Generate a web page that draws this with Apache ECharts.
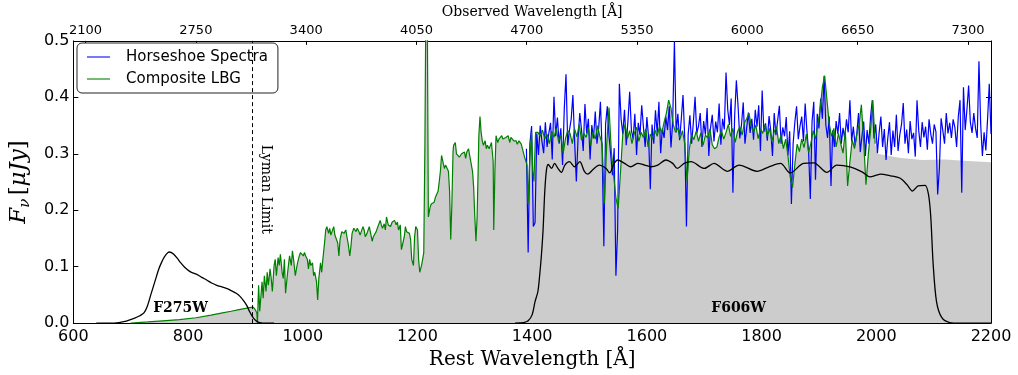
<!DOCTYPE html>
<html>
<head>
<meta charset="utf-8">
<script src="https://cdn.jsdelivr.net/npm/echarts@6/dist/echarts.min.js"></script>
<style>
  html, body { margin: 0; padding: 0; background: #fff; }
  #chart { width: 1018px; height: 375px; }
</style>
</head>
<body>
<div id="chart"></div>
<script>
// Redshift factor (1 + z) linking rest-frame and observed wavelengths
const ONE_PLUS_Z = 3.38;

// Bottom / top axis ticks
const REST_TICKS = [600, 800, 1000, 1200, 1400, 1600, 1800, 2000, 2200];
const OBS_TICKS = [2100, 2750, 3400, 4050, 4700, 5350, 6000, 6650, 7300];

// Composite LBG spectrum, blue side (rest wavelength in Å, flux in μJy)
const LBG_UV_WAVE = [
  700, 730, 756, 785, 814, 840, 860, 875, 889, 900, 910, 914, 917, 920, 921,
  923, 925, 929, 931, 933, 936, 938, 940, 943, 945, 947, 950, 952, 954, 957, 959, 961, 964, 966, 968, 970,
  973, 975, 977, 980, 982, 984, 987, 989, 991, 994, 996, 998, 1001, 1003, 1005, 1008, 1010, 1012, 1014, 1017,
  1019, 1021, 1024, 1026, 1028, 1031, 1033, 1035, 1038, 1040, 1042, 1045, 1047, 1049, 1051, 1054, 1056, 1058,
  1061, 1063, 1065, 1068, 1070, 1072, 1075, 1077, 1079, 1082, 1084, 1086, 1089, 1091, 1093, 1095, 1098, 1100,
  1102, 1105, 1107, 1109, 1112, 1114, 1116, 1119, 1121, 1123, 1126, 1128, 1130, 1133, 1135, 1137, 1139, 1142,
  1144, 1146, 1149, 1151, 1153, 1156, 1158, 1160, 1163, 1165, 1167, 1170, 1172, 1174, 1177, 1179, 1181, 1183,
  1186, 1188, 1190, 1193, 1195, 1197, 1200, 1202, 1204, 1207, 1209, 1211,
  1213, 1215, 1217, 1219, 1222, 1224, 1226, 1229, 1231, 1233, 1236, 1238, 1240, 1242, 1245, 1247, 1249, 1252,
  1254, 1256, 1258, 1260, 1262, 1263, 1266, 1268, 1270, 1273, 1275, 1277, 1280, 1282, 1284, 1286, 1289, 1291,
  1293, 1296, 1298, 1300, 1302, 1304, 1306, 1307, 1309, 1311, 1313, 1315, 1318, 1320, 1322, 1325, 1327, 1329,
  1332, 1333, 1335, 1337, 1340, 1342, 1344, 1347, 1349, 1351, 1354, 1356, 1358, 1361, 1363, 1365, 1368, 1370,
  1372, 1374, 1377, 1379, 1381, 1384, 1386, 1388, 1391, 1393, 1395, 1396, 1399, 1401, 1403, 1406
];
const LBG_UV_FLUX = [
  0.000, 0.002, 0.004, 0.006, 0.0095, 0.014, 0.018, 0.021, 0.024, 0.026, 0.028, 0.028, 0.024, 0.018, 0.000,
  0.067, 0.021, 0.073, 0.044, 0.084, 0.056, 0.090, 0.067, 0.096, 0.079, 0.056, 0.102, 0.113, 0.084, 0.116, 0.102, 0.122, 0.090, 0.079, 0.113, 0.053,
  0.084, 0.102, 0.119, 0.102, 0.128, 0.113, 0.084, 0.096, 0.107, 0.119, 0.125, 0.128, 0.119, 0.125, 0.119, 0.113, 0.096, 0.113, 0.102, 0.107,
  0.084, 0.090, 0.073, 0.041, 0.079, 0.107, 0.090, 0.113, 0.142, 0.165, 0.171, 0.159, 0.168, 0.156, 0.162, 0.171, 0.156, 0.159,
  0.142, 0.119, 0.148, 0.162, 0.165, 0.159, 0.165, 0.153, 0.142, 0.119, 0.136, 0.159, 0.168, 0.171, 0.162, 0.168, 0.162, 0.156,
  0.162, 0.171, 0.165, 0.153, 0.159, 0.165, 0.171, 0.156, 0.145, 0.153, 0.156, 0.162, 0.168, 0.171, 0.182, 0.174, 0.168, 0.176,
  0.165, 0.188, 0.174, 0.176, 0.171, 0.179, 0.176, 0.182, 0.174, 0.179, 0.165, 0.174, 0.130, 0.127, 0.153, 0.171, 0.162, 0.165,
  0.159, 0.148, 0.113, 0.102, 0.153, 0.171, 0.165, 0.113, 0.090, 0.102, 0.113, 0.125,
  0.320, 0.620, 0.580, 0.188, 0.205, 0.211, 0.208, 0.214, 0.222, 0.225, 0.234, 0.251, 0.269, 0.297, 0.283, 0.274, 0.280, 0.277,
  0.269, 0.234, 0.148, 0.211, 0.303, 0.315, 0.320, 0.300, 0.303, 0.294, 0.292, 0.300, 0.297, 0.303, 0.292, 0.303, 0.309, 0.297,
  0.286, 0.269, 0.240, 0.188, 0.145, 0.188, 0.280, 0.332, 0.366, 0.338, 0.323, 0.315, 0.323, 0.309, 0.315, 0.309, 0.312, 0.320,
  0.286, 0.165, 0.269, 0.332, 0.320, 0.326, 0.329, 0.332, 0.326, 0.323, 0.329, 0.326, 0.332, 0.320, 0.329, 0.326, 0.323, 0.320,
  0.323, 0.317, 0.323, 0.326, 0.317, 0.315, 0.297, 0.294, 0.280, 0.211, 0.269, 0.292, 0.338, 0.269, 0.251, 0.338
];

// Composite LBG spectrum, red side: regular 4 Å sampling from 1410 Å
const LBG_RED_START = 1410;
const LBG_RED_STEP = 4;
const LBG_RED_FLUX = [
  0.338, 0.331, 0.342, 0.326, 0.335, 0.318, 0.340, 0.329, 0.345, 0.322,
  0.333, 0.300, 0.327, 0.341, 0.336, 0.318, 0.344, 0.330, 0.352, 0.324,
  0.337, 0.329, 0.346, 0.315, 0.339, 0.326, 0.350, 0.331, 0.318, 0.212,
  0.318, 0.382, 0.305, 0.262, 0.222, 0.203, 0.268, 0.335, 0.352, 0.327,
  0.341, 0.318, 0.336, 0.347, 0.322, 0.338, 0.329, 0.344, 0.312, 0.335,
  0.326, 0.342, 0.331, 0.349, 0.337, 0.356, 0.372, 0.395, 0.381, 0.352,
  0.338, 0.346, 0.327, 0.341, 0.318, 0.251, 0.308, 0.334, 0.325, 0.340,
  0.322, 0.337, 0.315, 0.333, 0.328, 0.344, 0.316, 0.309, 0.312, 0.330,
  0.341, 0.326, 0.338, 0.352, 0.331, 0.345, 0.320, 0.339, 0.348, 0.333,
  0.355, 0.362, 0.372, 0.349, 0.338, 0.351, 0.327, 0.344, 0.336, 0.352,
  0.331, 0.345, 0.322, 0.339, 0.348, 0.318, 0.334, 0.309, 0.326, 0.296,
  0.258, 0.240, 0.282, 0.317, 0.304, 0.326, 0.311, 0.335, 0.302, 0.319,
  0.341, 0.326, 0.352, 0.378, 0.418, 0.438, 0.395, 0.352, 0.331, 0.345,
  0.312, 0.336, 0.318, 0.301, 0.342, 0.243, 0.286, 0.325, 0.309, 0.334,
  0.352, 0.387, 0.322, 0.245, 0.298, 0.341, 0.395, 0.318
];

// Continuum level of the composite beyond the plotted green trace
const FILL_TAIL_WAVE = [2002, 2040, 2080, 2120, 2160, 2200];
const FILL_TAIL_FLUX = [0.300, 0.293, 0.289, 0.290, 0.287, 0.285];

// Horseshoe spectrum: regular 3 Å sampling from 1390 Å
const HS_START = 1390;
const HS_STEP = 3;
const HS_FLUX = [
  0.309, 0.125, 0.318, 0.349, 0.171, 0.178, 0.336, 0.298, 0.350, 0.322,
  0.301, 0.356, 0.312, 0.336, 0.355, 0.290, 0.401, 0.331, 0.364, 0.318,
  0.345, 0.280, 0.380, 0.441, 0.315, 0.342, 0.361, 0.404, 0.322, 0.251,
  0.327, 0.372, 0.343, 0.305, 0.388, 0.336, 0.362, 0.290, 0.351, 0.327,
  0.375, 0.318, 0.346, 0.392, 0.305, 0.136, 0.352, 0.384, 0.331, 0.298,
  0.262, 0.310, 0.084, 0.165, 0.424, 0.362, 0.335, 0.378, 0.315, 0.358,
  0.410, 0.342, 0.326, 0.371, 0.298, 0.355, 0.333, 0.386, 0.347, 0.312,
  0.365, 0.329, 0.237, 0.352, 0.318, 0.377, 0.336, 0.392, 0.301, 0.345,
  0.328, 0.366, 0.342, 0.384, 0.311, 0.356, 0.500, 0.338, 0.371, 0.324,
  0.362, 0.404, 0.328, 0.171, 0.335, 0.368, 0.318, 0.355, 0.401, 0.336,
  0.349, 0.372, 0.312, 0.358, 0.334, 0.381, 0.296, 0.346, 0.369, 0.322,
  0.357, 0.338, 0.389, 0.316, 0.362, 0.343, 0.444, 0.378, 0.351, 0.398,
  0.231, 0.366, 0.430, 0.384, 0.327, 0.352, 0.391, 0.318, 0.346, 0.373,
  0.337, 0.362, 0.325, 0.378, 0.348, 0.386, 0.305, 0.412, 0.339, 0.354,
  0.323, 0.367, 0.341, 0.296, 0.372, 0.333, 0.359, 0.385, 0.318, 0.347,
  0.331, 0.365, 0.297, 0.340, 0.211, 0.318, 0.356, 0.384, 0.326, 0.349,
  0.366, 0.322, 0.389, 0.341, 0.303, 0.220, 0.357, 0.392, 0.254, 0.371,
  0.345, 0.398, 0.362, 0.438, 0.351, 0.328, 0.366, 0.243, 0.341, 0.312,
  0.358, 0.335, 0.372, 0.318, 0.346, 0.327, 0.361, 0.338, 0.395, 0.322,
  0.348, 0.315, 0.336, 0.372, 0.303, 0.331, 0.357, 0.296, 0.342, 0.318,
  0.365, 0.395, 0.327, 0.352, 0.301, 0.338, 0.366, 0.312, 0.344, 0.289,
  0.327, 0.356, 0.298, 0.341, 0.312, 0.369, 0.305, 0.334, 0.352, 0.390,
  0.318, 0.343, 0.301, 0.358, 0.326, 0.337, 0.295, 0.395, 0.341, 0.312,
  0.356, 0.329, 0.348, 0.307, 0.361, 0.335, 0.318, 0.352, 0.339, 0.228,
  0.274, 0.363, 0.341, 0.318, 0.372, 0.336, 0.355, 0.328, 0.361, 0.347,
  0.312, 0.366, 0.395, 0.231, 0.418, 0.342, 0.378, 0.421, 0.356, 0.337,
  0.372, 0.345, 0.328, 0.464, 0.352, 0.296, 0.338, 0.306, 0.361, 0.424,
  0.335
];

// HST filter throughput curves, scaled to the flux axis
const F275W_WAVE = [640, 671, 690, 707, 716, 723, 729, 735, 742, 749, 754, 758, 763, 767, 771, 775, 781, 787, 794, 801, 808, 816, 824, 833, 841, 850, 859, 868, 876, 884, 891, 898, 903, 907, 912, 916, 920, 925, 935, 950];
const F275W_FLUX = [0.000, 0.000, 0.003, 0.009, 0.013, 0.018, 0.030, 0.050, 0.073, 0.096, 0.108, 0.116, 0.123, 0.126, 0.125, 0.122, 0.115, 0.107, 0.099, 0.093, 0.089, 0.086, 0.081, 0.076, 0.071, 0.067, 0.064, 0.061, 0.057, 0.053, 0.047, 0.038, 0.030, 0.021, 0.012, 0.0065, 0.003, 0.001, 0.000, 0.000];
const F606W_WAVE = [1370, 1385, 1393, 1400, 1405, 1410, 1413, 1416, 1419, 1422, 1425, 1428, 1434, 1439, 1445, 1451, 1457, 1465, 1474, 1483, 1491, 1497, 1506, 1517, 1529, 1535, 1543, 1549, 1561, 1572, 1584, 1596, 1607, 1619, 1633, 1645, 1653, 1665, 1677, 1700, 1717, 1740, 1761, 1792, 1813, 1833, 1850, 1873, 1891, 1914, 1931, 1954, 1975, 1989, 2000, 2007, 2025, 2041, 2053, 2063, 2073, 2085, 2091, 2095, 2099, 2105, 2114, 2128, 2146, 2200];
const F606W_FLUX = [0.000, 0.001, 0.004, 0.015, 0.038, 0.056, 0.084, 0.119, 0.165, 0.234, 0.272, 0.281, 0.274, 0.283, 0.274, 0.267, 0.280, 0.286, 0.277, 0.286, 0.269, 0.264, 0.272, 0.280, 0.274, 0.266, 0.283, 0.289, 0.283, 0.277, 0.283, 0.280, 0.277, 0.280, 0.289, 0.283, 0.274, 0.283, 0.286, 0.274, 0.283, 0.269, 0.280, 0.269, 0.277, 0.283, 0.266, 0.283, 0.284, 0.267, 0.280, 0.277, 0.268, 0.259, 0.262, 0.264, 0.261, 0.257, 0.246, 0.234, 0.243, 0.244, 0.228, 0.188, 0.107, 0.038, 0.010, 0.001, 0.000, 0.000];

// Lyman limit (rest frame, Å)
const LYMAN_LIMIT = 912;

const pairs = (xs, ys) => xs.map((x, i) => [x, ys[i]]);
const regular = (start, step, ys) => ys.map((y, i) => [start + i * step, y]);

const lbgData = pairs(LBG_UV_WAVE, LBG_UV_FLUX).concat(regular(LBG_RED_START, LBG_RED_STEP, LBG_RED_FLUX));
const fillData = lbgData.concat(pairs(FILL_TAIL_WAVE, FILL_TAIL_FLUX));
const hsData = regular(HS_START, HS_STEP, HS_FLUX);

const SANS = 'DejaVu Sans';
const SERIF = 'DejaVu Serif';
const plain = v => String(v);
const axisLine = { show: true, onZero: false, lineStyle: { color: '#000', width: 1 } };

const chart = echarts.init(document.getElementById('chart'), null, { renderer: 'canvas' });

chart.setOption({
  animation: false,
  backgroundColor: '#fff',
  grid: { left: 70, right: 27, top: 36, bottom: 50, containLabel: false },
  legend: {
    left: 77, top: 43,
    orient: 'vertical',
    padding: [5, 10, 5, 10],
    itemGap: 4,
    itemWidth: 23,
    itemHeight: 2,
    icon: 'rect',
    borderColor: '#222', borderWidth: 1, borderRadius: 5,
    backgroundColor: '#fff',
    textStyle: { fontFamily: SANS, fontSize: 15, color: '#000', lineHeight: 18, padding: [0, 0, 0, 11] },
    data: [
      { name: 'Horseshoe Spectra', itemStyle: { color: '#7878ff' } },
      { name: 'Composite LBG', itemStyle: { color: '#74ba74' } }
    ]
  },
  xAxis: [
    {
      type: 'value', position: 'bottom',
      min: REST_TICKS[0], max: REST_TICKS[REST_TICKS.length - 1], interval: 200,
      axisLine,
      axisTick: { show: true, inside: true, length: 5, lineStyle: { color: '#000' } },
      axisLabel: { fontFamily: SANS, fontSize: 16, color: '#000', margin: 6, formatter: plain },
      splitLine: { show: false },
      name: 'Rest Wavelength [Å]', nameLocation: 'middle', nameGap: 21,
      nameTextStyle: { fontFamily: SERIF, fontSize: 20, color: '#000' }
    },
    {
      type: 'value', position: 'top',
      min: REST_TICKS[0] * ONE_PLUS_Z, max: REST_TICKS[REST_TICKS.length - 1] * ONE_PLUS_Z,
      axisLine,
      axisTick: { show: true, inside: true, length: 4, customValues: OBS_TICKS, lineStyle: { color: '#000' } },
      axisLabel: { fontFamily: SANS, fontSize: 13, color: '#000', margin: 4, customValues: OBS_TICKS, formatter: plain },
      splitLine: { show: false },
      name: 'Observed Wavelength [Å]', nameLocation: 'middle', nameGap: 19,
      nameTextStyle: { fontFamily: SERIF, fontSize: 14, color: '#000' }
    }
  ],
  yAxis: [
    {
      type: 'value', position: 'left', min: 0, max: 0.5, interval: 0.1,
      axisLine,
      axisTick: { show: true, inside: true, length: 5, lineStyle: { color: '#000' } },
      axisLabel: { fontFamily: SANS, fontSize: 16, color: '#000', margin: 4, formatter: v => v.toFixed(1) },
      splitLine: { show: false },
      name: '{f|F}{s|ν} {b|[}{f|μJy}{b|]}',
      nameLocation: 'middle', nameRotate: 90, nameGap: 34,
      nameTextStyle: {
        color: '#000',
        rich: {
          f: { fontFamily: SERIF, fontStyle: 'italic', fontSize: 23, color: '#000' },
          s: { fontFamily: SERIF, fontStyle: 'italic', fontSize: 15, color: '#000', padding: [12, 0, 0, 0] },
          b: { fontFamily: SERIF, fontSize: 23, color: '#000' }
        }
      }
    },
    {
      type: 'value', position: 'right', min: 0, max: 0.5, interval: 0.1,
      axisLine,
      axisTick: { show: true, inside: true, length: 5, lineStyle: { color: '#000' } },
      axisLabel: { show: false },
      splitLine: { show: false }
    }
  ],
  series: [
    {
      name: 'LBG continuum', type: 'line', data: fillData,
      showSymbol: false, silent: true, z: 1,
      lineStyle: { width: 0, opacity: 0 },
      areaStyle: { color: '#cccccc', opacity: 1 },
      emphasis: { disabled: true }
    },
    {
      name: 'Horseshoe Spectra', type: 'line', data: hsData,
      showSymbol: false, z: 3, color: '#0000ff',
      lineStyle: { color: '#0000ff', width: 1.2 }
    },
    {
      name: 'Composite LBG', type: 'line', data: lbgData,
      showSymbol: false, z: 4, color: '#008000',
      lineStyle: { color: '#008000', width: 1.2 },
      markLine: {
        silent: true, symbol: ['none', 'none'],
        lineStyle: { color: '#000', type: [4, 3], width: 1 },
        label: { show: false },
        data: [{ xAxis: LYMAN_LIMIT }]
      }
    },
    {
      name: 'F275W', type: 'line', data: pairs(F275W_WAVE, F275W_FLUX),
      smooth: 0.3, showSymbol: false, z: 5,
      lineStyle: { color: '#000', width: 1.3 }
    },
    {
      name: 'F606W', type: 'line', data: pairs(F606W_WAVE, F606W_FLUX),
      smooth: 0.3, showSymbol: false, z: 5,
      lineStyle: { color: '#000', width: 1.3 }
    },
    {
      name: 'annotations', type: 'scatter', symbolSize: 0, silent: true, z: 6,
      itemStyle: { opacity: 1 },
      label: {
        show: true, position: 'inside', color: '#000', opacity: 1,
        textBorderWidth: 0, fontFamily: SERIF, formatter: p => p.data.text
      },
      data: [
        { value: [787, 0.027], text: 'F275W', label: { color: '#000', fontWeight: 'bold', fontSize: 14 } },
        { value: [1760, 0.027], text: 'F606W', label: { color: '#000', fontWeight: 'bold', fontSize: 14 } },
        { value: [935, 0.237], text: 'Lyman Limit', label: { color: '#000', fontSize: 14, rotate: -90 } }
      ]
    }
  ]
});
</script>
</body>
</html>
